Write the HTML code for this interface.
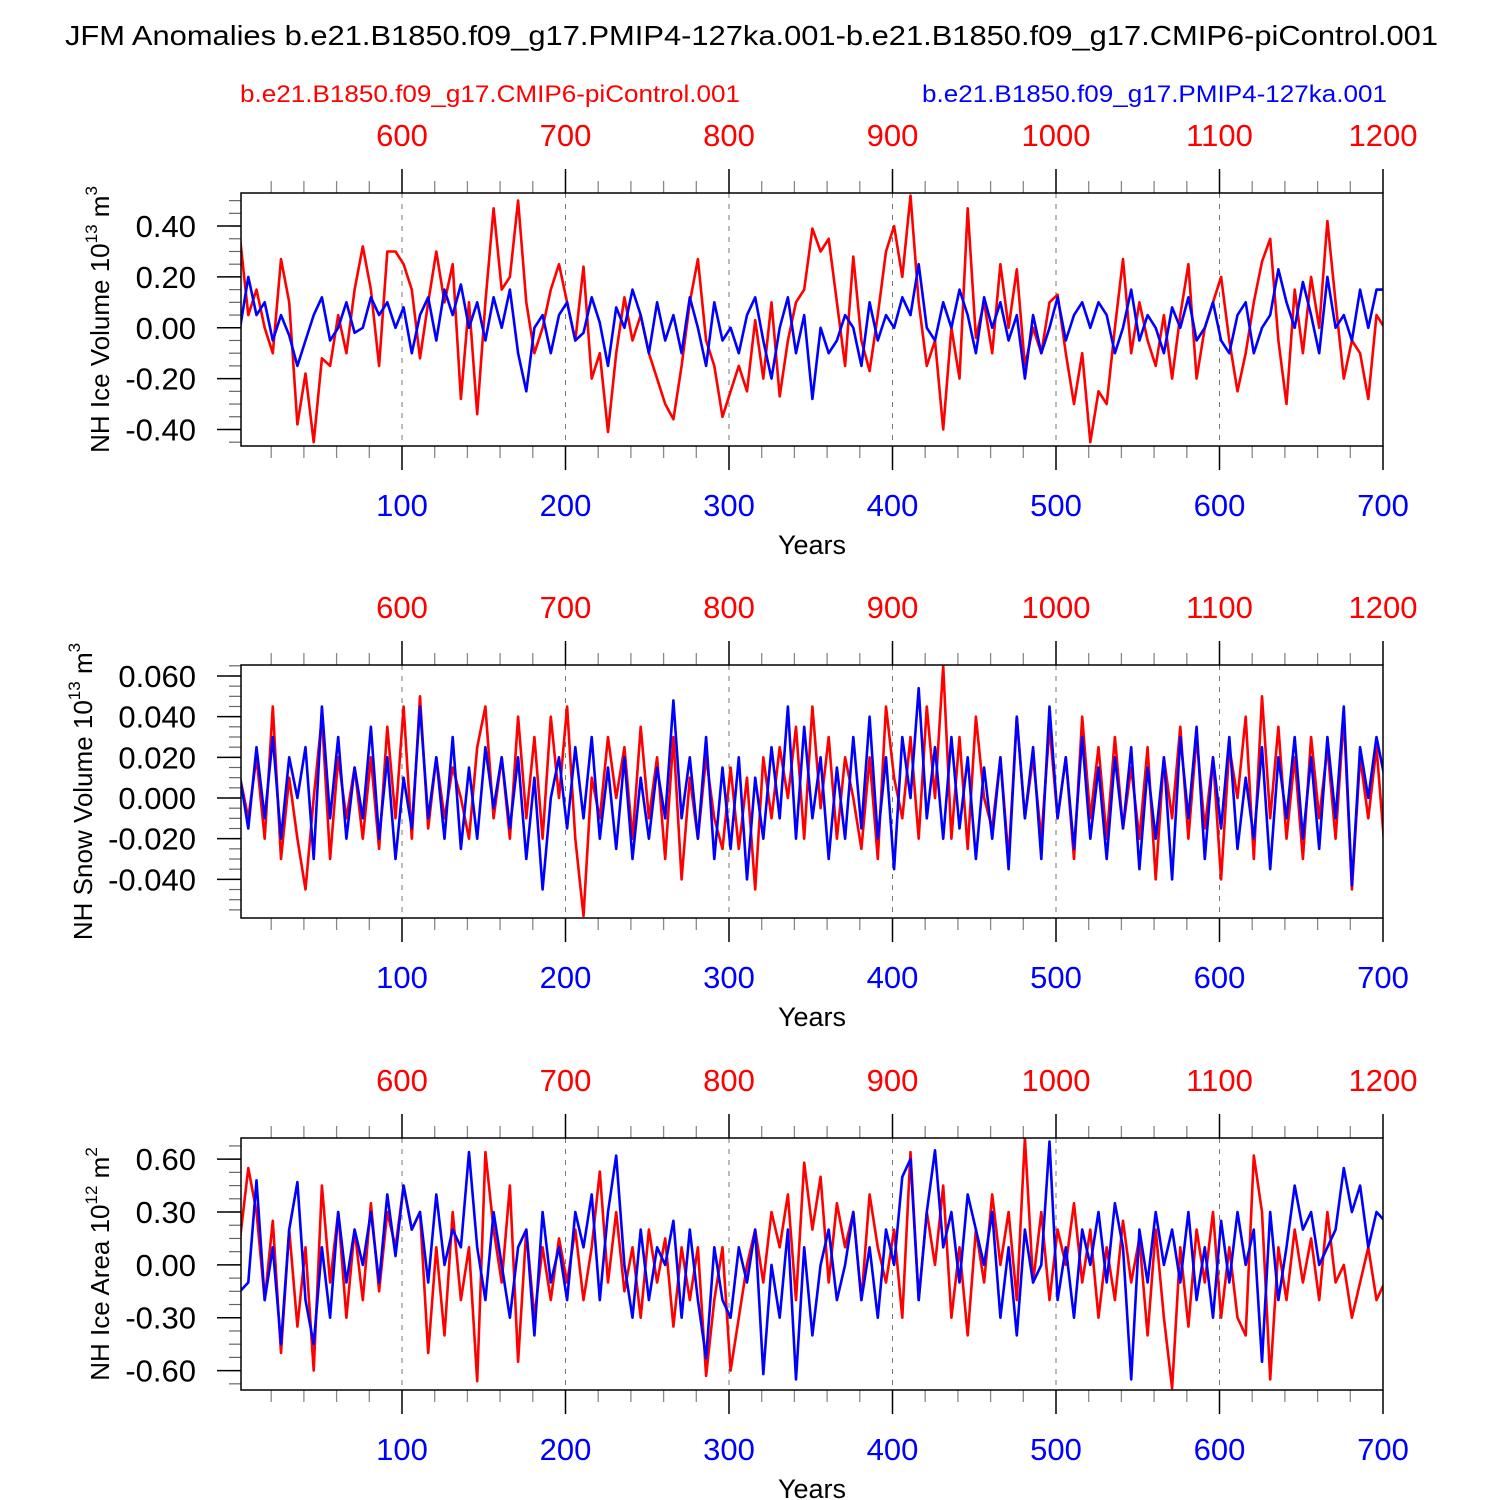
<!DOCTYPE html>
<html><head><meta charset="utf-8"><style>
html,body{margin:0;padding:0;background:#fff;}
svg{display:block;font-family:"Liberation Sans",Arial,sans-serif;}
</style></head><body>
<svg id="chart" width="1500" height="1500" viewBox="0 0 1500 1500" xmlns="http://www.w3.org/2000/svg">
<text x="65" y="45" font-size="28" textLength="1373" lengthAdjust="spacingAndGlyphs">JFM Anomalies b.e21.B1850.f09_g17.PMIP4-127ka.001-b.e21.B1850.f09_g17.CMIP6-piControl.001</text>
<text x="240" y="102" font-size="24" fill="#ff0000" textLength="500" lengthAdjust="spacingAndGlyphs">b.e21.B1850.f09_g17.CMIP6-piControl.001</text>
<text x="922" y="102" font-size="24" fill="#0000ff" textLength="465" lengthAdjust="spacingAndGlyphs">b.e21.B1850.f09_g17.PMIP4-127ka.001</text>
</svg>
<script>
const bottomTicks = [100,200,300,400,500,600,700];
const topTicks = [600,700,800,900,1000,1100,1200];
const yearStep = 5;
const p1Ticks = [0.40,0.20,0.00,-0.20,-0.40];
const p1Labels = ["0.40","0.20","0.00","-0.20","-0.40"];
const p2Ticks = [0.06,0.04,0.02,0,-0.02,-0.04];
const p2Labels = ["0.060","0.040","0.020","0.000","-0.020","-0.040"];
const p3Ticks = [0.6,0.3,0,-0.3,-0.6];
const p3Labels = ["0.60","0.30","0.00","-0.30","-0.60"];
const p1Red = [0.35,0.05,0.15,0.0,-0.1,0.27,0.1,-0.38,-0.18,-0.45,-0.12,-0.15,0.05,-0.1,0.15,0.32,0.15,-0.15,0.3,0.3,0.25,0.15,-0.12,0.1,0.3,0.1,0.25,-0.28,0.1,-0.34,0.1,0.47,0.15,0.2,0.5,0.1,-0.1,0.0,0.15,0.25,0.1,-0.05,0.24,-0.2,-0.1,-0.41,-0.1,0.12,-0.05,0.05,-0.1,-0.2,-0.3,-0.36,-0.15,0.1,0.27,-0.05,-0.15,-0.35,-0.25,-0.15,-0.25,0.03,-0.2,0.1,-0.27,-0.05,0.1,0.15,0.39,0.3,0.35,0.1,-0.15,0.28,-0.05,-0.17,0.05,0.3,0.4,0.2,0.52,0.1,-0.15,-0.05,-0.4,0.0,-0.2,0.47,-0.04,0.1,-0.1,0.25,0.0,0.23,-0.15,0.0,-0.1,0.1,0.13,-0.1,-0.3,-0.1,-0.45,-0.25,-0.3,0.0,0.27,-0.1,0.1,-0.05,-0.15,0.05,-0.2,0.05,0.25,-0.2,0.0,0.1,0.2,-0.05,-0.25,-0.1,0.1,0.26,0.35,-0.05,-0.3,0.15,-0.1,0.2,0.0,0.42,0.1,-0.2,-0.05,-0.1,-0.28,0.05,0.0];
const p1Blue = [0.0,0.2,0.05,0.1,-0.05,0.05,-0.03,-0.15,-0.05,0.05,0.12,-0.05,0.0,0.1,-0.02,0.0,0.12,0.05,0.1,0.0,0.08,-0.1,0.05,0.12,-0.05,0.15,0.05,0.17,0.0,0.1,-0.05,0.12,0.0,0.15,-0.1,-0.25,0.0,0.05,-0.1,0.05,0.1,-0.05,-0.02,0.12,0.02,-0.15,0.08,0.0,0.15,0.05,-0.1,0.1,-0.05,0.05,-0.1,0.12,0.0,-0.15,0.1,-0.05,0.0,-0.1,0.05,0.12,-0.05,-0.2,0.0,0.12,-0.1,0.05,-0.28,0.0,-0.1,-0.05,0.05,0.0,-0.15,0.1,-0.05,0.05,0.0,0.12,0.05,0.25,0.0,-0.05,0.1,0.0,0.15,0.05,-0.1,0.12,0.0,0.1,-0.05,0.05,-0.2,0.05,-0.1,0.0,0.12,-0.05,0.05,0.1,0.0,0.1,0.05,-0.1,0.0,0.15,-0.05,0.05,0.0,-0.1,0.08,0.0,0.12,-0.05,0.0,0.1,-0.05,-0.1,0.05,0.1,-0.1,0.0,0.05,0.23,0.1,0.0,0.18,0.05,-0.1,0.2,0.0,0.05,-0.05,0.15,0.0,0.15,0.15];
const p2Red = [0.01,-0.01,0.02,-0.02,0.045,-0.03,0.01,-0.02,-0.045,0.0,0.04,-0.03,0.02,-0.01,0.015,-0.02,0.02,-0.025,0.035,-0.01,0.045,-0.02,0.05,-0.015,0.02,-0.01,0.015,0.0,-0.02,0.025,0.045,-0.01,0.02,-0.02,0.04,-0.01,0.03,-0.02,0.04,0.0,0.045,-0.02,-0.058,0.01,-0.01,0.03,0.0,0.025,-0.02,0.035,-0.01,0.02,-0.03,0.03,-0.04,0.01,-0.02,0.02,-0.01,-0.025,0.015,-0.025,0.01,-0.045,0.02,-0.01,0.025,0.0,0.035,-0.02,0.045,-0.005,0.03,-0.02,0.02,0.0,-0.025,0.02,-0.03,0.045,0.01,-0.01,0.03,-0.02,0.045,0.0,0.065,-0.02,0.03,-0.025,0.04,0.0,-0.015,0.02,-0.03,0.04,-0.01,0.02,-0.02,0.035,-0.01,0.02,-0.03,0.04,-0.01,0.025,-0.02,0.03,-0.015,0.015,-0.02,0.025,-0.04,0.02,-0.01,0.035,-0.02,0.03,-0.015,0.02,-0.04,0.025,0.0,0.04,-0.03,0.05,-0.01,0.035,-0.02,0.02,-0.03,0.03,-0.01,0.025,-0.02,0.04,-0.045,0.02,-0.01,0.025,-0.025];
const p2Blue = [0.01,-0.015,0.025,-0.01,0.03,-0.02,0.02,0.0,0.025,-0.03,0.045,-0.01,0.03,-0.02,0.015,-0.01,0.035,-0.02,0.02,-0.03,0.01,-0.015,0.045,-0.01,0.02,-0.02,0.03,-0.025,0.015,-0.02,0.025,-0.005,0.02,-0.015,0.02,-0.03,0.01,-0.045,0.0,0.02,-0.015,0.025,-0.01,0.03,-0.02,0.015,-0.025,0.02,-0.03,0.01,-0.02,0.015,-0.01,0.048,-0.01,0.02,-0.02,0.03,-0.03,0.015,-0.025,0.02,-0.04,0.01,-0.02,0.025,-0.01,0.045,-0.02,0.035,-0.01,0.02,-0.03,0.015,-0.02,0.03,-0.015,0.04,-0.02,0.02,-0.035,0.03,0.0,0.054,-0.01,0.025,-0.02,0.03,-0.015,0.02,-0.03,0.015,-0.02,0.02,-0.035,0.04,-0.01,0.025,-0.03,0.045,-0.01,0.02,-0.025,0.03,-0.02,0.015,-0.03,0.02,-0.015,0.025,-0.035,0.015,-0.02,0.02,-0.04,0.03,-0.01,0.035,-0.03,0.02,-0.015,0.03,-0.025,0.01,-0.02,0.025,-0.035,0.02,-0.01,0.03,-0.02,0.02,-0.025,0.03,-0.01,0.045,-0.043,0.025,0.0,0.03,0.01];
const p3Red = [0.15,0.55,0.3,-0.2,0.25,-0.5,0.2,-0.35,0.1,-0.6,0.45,-0.1,0.3,-0.3,0.2,-0.2,0.35,-0.15,0.3,0.1,0.45,0.2,0.3,-0.5,0.1,-0.4,0.3,-0.2,0.1,-0.66,0.64,0.2,-0.1,0.45,-0.55,0.2,-0.3,0.1,-0.2,0.15,-0.1,0.2,-0.2,0.1,0.53,-0.1,0.3,-0.15,0.1,-0.3,0.2,-0.1,0.15,-0.35,0.1,-0.2,0.1,-0.63,-0.2,0.1,-0.6,-0.3,0.0,0.2,-0.1,0.3,0.1,0.4,-0.2,0.58,0.2,0.5,-0.1,0.35,0.1,0.3,-0.2,0.4,0.1,-0.1,0.2,-0.3,0.64,-0.2,0.3,0.0,0.45,-0.3,0.1,-0.4,0.2,-0.1,0.4,0.0,0.3,-0.2,0.72,-0.1,0.3,-0.2,0.2,0.0,0.35,-0.1,0.2,-0.3,0.1,-0.2,0.25,-0.1,0.15,-0.4,0.2,-0.3,-0.7,0.1,-0.35,0.2,-0.1,0.3,-0.3,0.1,-0.3,-0.4,0.62,0.3,-0.65,0.1,-0.2,0.2,-0.1,0.15,-0.2,0.3,-0.1,0.0,-0.3,-0.1,0.1,-0.2,-0.1,0.2,-0.25];
const p3Blue = [-0.15,-0.1,0.48,-0.2,0.1,-0.45,0.2,0.47,-0.2,-0.45,0.1,-0.3,0.3,-0.1,0.2,0.0,0.3,-0.1,0.4,0.05,0.45,0.2,0.3,-0.1,0.4,0.0,0.2,0.1,0.64,0.1,-0.2,0.3,0.0,-0.3,0.1,0.2,-0.4,0.3,-0.1,0.1,-0.2,0.3,0.1,0.4,-0.2,0.3,0.62,0.0,-0.3,0.2,-0.2,0.1,0.0,0.25,-0.3,0.2,-0.2,-0.53,0.1,-0.2,-0.3,0.1,-0.1,0.2,-0.62,0.0,-0.3,0.2,-0.65,0.1,-0.4,0.0,0.2,-0.2,0.0,0.3,-0.2,0.1,-0.3,0.2,0.0,0.5,0.6,-0.2,0.3,0.65,0.1,0.3,-0.1,0.4,0.2,0.0,0.3,-0.3,0.1,-0.4,0.2,-0.1,0.0,0.7,-0.2,0.1,-0.3,0.2,0.0,0.3,-0.1,0.35,0.1,-0.65,0.2,-0.1,0.3,0.0,0.2,-0.1,0.3,-0.2,0.1,-0.3,0.25,-0.1,0.3,0.0,0.2,-0.55,0.3,-0.2,0.1,0.45,0.2,0.3,0.0,0.1,0.2,0.55,0.3,0.45,0.1,0.3,0.25];

const NS = "http://www.w3.org/2000/svg";
const svg = document.getElementById('chart');
const X0 = 241, X1 = 1383;
function xScale(year){ return 238.5 + year * (1383 - 402) / 600; }
function mk(tag, attrs, parent){ const e = document.createElementNS(NS, tag); for (const k in attrs) e.setAttribute(k, attrs[k]); (parent||svg).appendChild(e); return e; }

const panels = [
  {key:'ice-volume', top:193, bot:446, vmax:0.53, vmin:-0.465, ticks:p1Ticks, labels:p1Labels, minor:0.05, red:p1Red, blue:p1Blue, title:'NH Ice Volume 10', sup:'13', unit:' m', usup:'3', tx:100},
  {key:'snow-volume', top:665, bot:918, vmax:0.0654, vmin:-0.059, ticks:p2Ticks, labels:p2Labels, minor:0.005, red:p2Red, blue:p2Blue, title:'NH Snow Volume 10', sup:'13', unit:' m', usup:'3', tx:83},
  {key:'ice-area', top:1138, bot:1390, vmax:0.72, vmin:-0.71, ticks:p3Ticks, labels:p3Labels, minor:0.075, red:p3Red, blue:p3Blue, title:'NH Ice Area 10', sup:'12', unit:' m', usup:'2', tx:100}
];

panels.forEach((p, pi) => {
  const g = mk('g', {});
  
  
  const yScale = v => p.bot - (v - p.vmin) / (p.vmax - p.vmin) * (p.bot - p.top);
  const clipId = 'clip' + pi;
  const cp = mk('clipPath', {id: clipId}, g);
  mk('rect', {x: X0, y: p.top, width: X1 - X0, height: p.bot - p.top}, cp);
  bottomTicks.forEach((t, i) => {
    const x = xScale(t);
    if (t < 700) {
      const gl = mk('line', {x1:x, x2:x, y1:p.top, y2:p.bot, stroke:'#777', 'stroke-width':1, 'stroke-dasharray':'5,6'}, g);
      
      
    }
    mk('line', {x1:x, x2:x, y1:p.bot, y2:p.bot + 24, stroke:'#000', 'stroke-width':1.5}, g);
    mk('line', {x1:x, x2:x, y1:p.top, y2:p.top - 24, stroke:'#000', 'stroke-width':1.5}, g);
    const bl = mk('text', {x:x, y:p.bot + 70, 'font-size':31, fill:'#0000ff', 'text-anchor':'middle'}, g);
    bl.textContent = t;
    
    
    const tl = mk('text', {x:x, y:p.top - 47, 'font-size':31, fill:'#ff0000', 'text-anchor':'middle'}, g);
    tl.textContent = topTicks[i];
    
    
  });
  for (let yr = 20; yr <= 700; yr += 20) {
    if (yr % 100 === 0) continue;
    const x = xScale(yr);
    mk('line', {x1:x, x2:x, y1:p.bot, y2:p.bot + 12, stroke:'#888', 'stroke-width':1.3}, g);
    mk('line', {x1:x, x2:x, y1:p.top, y2:p.top - 12, stroke:'#888', 'stroke-width':1.3}, g);
  }
  for (let v = Math.ceil(p.vmin / p.minor) * p.minor; v <= p.vmax; v += p.minor) {
    const y = yScale(v);
    mk('line', {x1:X0 - 12, x2:X0, y1:y, y2:y, stroke:'#666', 'stroke-width':1.2}, g);
  }
  p.ticks.forEach((v, i) => {
    const y = yScale(v);
    mk('line', {x1:X0 - 24, x2:X0, y1:y, y2:y, stroke:'#000', 'stroke-width':1.5}, g);
    const lb = mk('text', {x:196, y:y + 11, 'font-size':31, 'text-anchor':'end'}, g);
    lb.textContent = p.labels[i];
    
    
  });
  [['red', p.red, '#ff0000'], ['blue', p.blue, '#0000ff']].forEach(s => {
    const pts = s[1].map((v, i) => xScale(1 + i * yearStep).toFixed(1) + ',' + yScale(v).toFixed(1)).join(' ');
    const pl = mk('polyline', {points: pts, fill:'none', stroke:s[2], 'stroke-width':2.6, 'stroke-linejoin':'round', 'clip-path':'url(#' + clipId + ')'}, g);
    
    
  });
  const fr = mk('rect', {x:X0, y:p.top, width:X1 - X0, height:p.bot - p.top, fill:'none', stroke:'#000', 'stroke-width':1.5}, g);
  
  
  const xt = mk('text', {x:812, y:p.bot + 108, 'font-size':27, 'text-anchor':'middle'}, g);
  xt.textContent = 'Years';
  
  
  const cy = (p.top + p.bot) / 2;
  const yt = mk('text', {x:0, y:0, 'font-size':26, 'text-anchor':'middle', transform:'translate(' + (p.tx + 9) + ',' + cy + ') rotate(-90)'}, g);
  
  
  yt.innerHTML = p.title + '<tspan font-size="17" dy="-12">' + p.sup + '</tspan><tspan dy="12">' + p.unit + '</tspan><tspan font-size="17" dy="-12">' + p.usup + '</tspan>';
});
</script>
</body></html>
